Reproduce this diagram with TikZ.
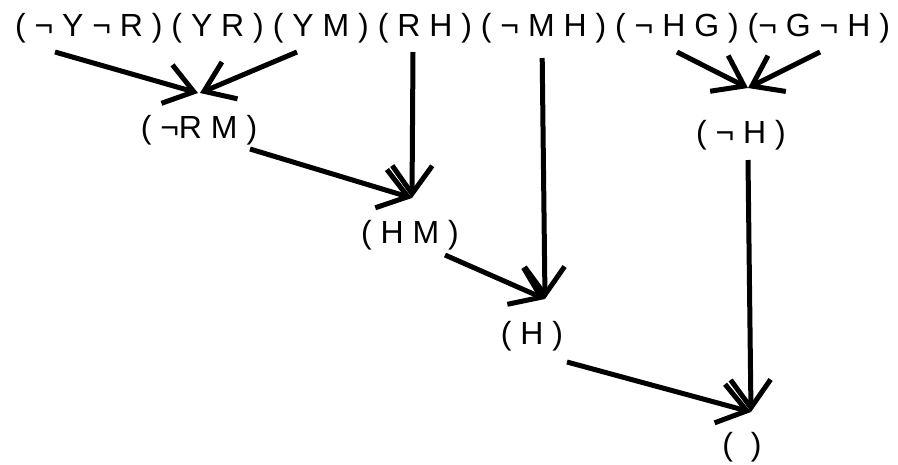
\documentclass[tikz,border=0pt]{standalone}
\usepackage{fontspec}
\setmainfont{Liberation Sans}
\usetikzlibrary{arrows.meta}
\begin{document}
\begin{tikzpicture}[x=1pt,y=-1pt,
  lbl/.style={inner sep=0pt,anchor=base,font=\fontsize{32}{36}\selectfont},
  arr/.style={line width=5pt,-{Straight Barb[length=28pt,width=40pt,line width=5pt]}}]
\useasboundingbox (0,0) rectangle (898,464);
\node[lbl] (n1) at (88.8,36) {( ¬ Y ¬ R )};
\node[lbl] (n2) at (217.7,36) {( Y R )};
\node[lbl] (n3) at (320.9,36) {( Y M )};
\node[lbl] (n4) at (424.9,36) {( R H )};
\node[lbl] (n5) at (543.6,36) {( ¬ M H )};
\node[lbl] (n6) at (677,36) {( ¬ H G )};
\node[lbl] (n7) at (818.8,36) {(¬ G ¬ H )};
\node[lbl] (rm) at (199,138) {( ¬R M )};
\node[lbl] (hm) at (410,243) {( H M )};
\node[lbl] (h) at (532,344) {( H )};
\node[lbl] (nh) at (741,143) {( ¬ H )};
\node[lbl] (e) at (742,455) {(\hspace{17.7pt})};
\draw[arr] ([shift={(-33.8,16)}]n1.base) -- ([shift={(-1,-45)}]rm.base);
\draw[arr] ([shift={(-23.9,16)}]n3.base) -- ([shift={(1,-45)}]rm.base);
\draw[arr] ([shift={(-11.9,16)}]n4.base) -- ([shift={(2,-45)}]hm.base);
\draw[arr] ([shift={(51,11)}]rm.base) -- ([shift={(2,-45)}]hm.base);
\draw[arr] ([shift={(-1.4,22)}]n5.base) -- ([shift={(13,-45)}]h.base);
\draw[arr] ([shift={(35,12)}]hm.base) -- ([shift={(13,-45)}]h.base);
\draw[arr] ([shift={(0,16)}]n6.base) -- ([shift={(7,-55)}]nh.base);
\draw[arr] ([shift={(1.2,16)}]n7.base) -- ([shift={(7,-55)}]nh.base);
\draw[arr] ([shift={(7,17)}]nh.base) -- ([shift={(9,-43)}]e.base);
\draw[arr] ([shift={(35,18)}]h.base) -- ([shift={(9,-43)}]e.base);
\end{tikzpicture}
\end{document}
